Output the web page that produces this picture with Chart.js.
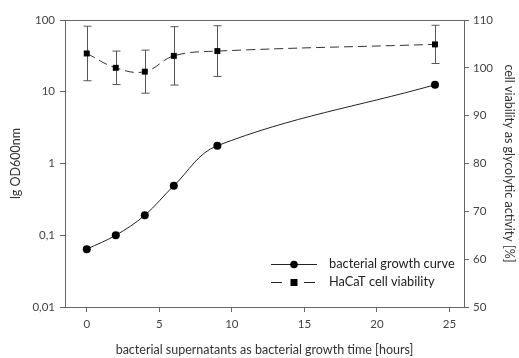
<!DOCTYPE html>
<html>
<head>
<meta charset="utf-8">
<script src="https://cdn.jsdelivr.net/npm/chart.js@4.4.1/dist/chart.umd.min.js"></script>
<style>
  html, body { margin: 0; padding: 0; background: #fff; }
  #wrap { width: 519px; height: 358px; }
</style>
</head>
<body>
<div id="wrap"><canvas id="chart" width="519" height="358"></canvas></div>
<script>
// growth time of the bacteria (hours)
const hours = [0, 2, 4, 6, 9, 24];
// OD600 of the bacterial culture (log axis)
const growthOD = [0.064, 0.1, 0.19, 0.49, 1.77, 12.5];
// HaCaT viability (% glycolytic activity) and its standard deviation
const viability = [103.0, 100.0, 99.2, 102.5, 103.5, 104.9];
const viabilitySd = [5.7, 3.5, 4.5, 6.1, 5.3, 4.0];

const xTicks = [0, 5, 10, 15, 20, 25];
const odTicks = [0.01, 0.1, 1, 10, 100];
const viabilityTicks = [50, 60, 70, 80, 90, 100, 110];

const FONT = 'Lato, "Open Sans", sans-serif';
const LEGEND_WIDTH = 126; // width of the longer legend entry
const AXIS = '#666';
const TEXT = '#444';

// vertical error bars with caps on the viability series
const errorBars = {
  id: 'errorBars',
  beforeDatasetsDraw(chart) {
    const ctx = chart.ctx;
    const xs = chart.scales.x, ys = chart.scales.y2;
    ctx.save();
    ctx.strokeStyle = '#555';
    ctx.lineWidth = 1;
    hours.forEach((h, i) => {
      const px = Math.round(xs.getPixelForValue(h)) + 0.5;
      const top = ys.getPixelForValue(viability[i] + viabilitySd[i]);
      const bot = ys.getPixelForValue(viability[i] - viabilitySd[i]);
      ctx.beginPath();
      ctx.moveTo(px, top); ctx.lineTo(px, bot);
      ctx.moveTo(px - 4, top); ctx.lineTo(px + 4, top);
      ctx.moveTo(px - 4, bot); ctx.lineTo(px + 4, bot);
      ctx.stroke();
    });
    ctx.restore();
  }
};

// frame on top of the plot area plus the legend inside it
const frameAndLegend = {
  id: 'frameAndLegend',
  afterDraw(chart) {
    const ctx = chart.ctx;
    const a = chart.chartArea;
    ctx.save();
    ctx.strokeStyle = AXIS;
    ctx.lineWidth = 1;
    ctx.beginPath();
    ctx.moveTo(a.left, Math.round(a.top) + 0.5);
    ctx.lineTo(a.right, Math.round(a.top) + 0.5);
    ctx.stroke();

    const x0 = a.right - 193, x1 = a.right - 147, tx = a.right - 135;
    const cx = (x0 + x1) / 2;
    const ds = chart.data.datasets;

    // size the legend text so the first entry spans LEGEND_WIDTH
    ctx.font = '12px ' + FONT;
    const size = 12 * LEGEND_WIDTH / ctx.measureText(ds[0].label).width;
    ctx.font = size.toFixed(1) + 'px ' + FONT;
    ctx.textBaseline = 'middle';
    ctx.strokeStyle = '#222';

    // solid line with a round marker
    let y = a.bottom - 43;
    ctx.beginPath();
    ctx.moveTo(x0, y + 0.5); ctx.lineTo(x1, y + 0.5);
    ctx.stroke();
    ctx.fillStyle = '#000';
    ctx.beginPath(); ctx.arc(cx, y + 0.5, 3.8, 0, Math.PI * 2); ctx.fill();
    ctx.fillStyle = '#222';
    ctx.fillText(ds[0].label, tx, y);

    // two short dashes around a square marker
    y = a.bottom - 25;
    ctx.beginPath();
    ctx.moveTo(x0, y + 0.5); ctx.lineTo(x0 + 11, y + 0.5);
    ctx.moveTo(x1 - 13, y + 0.5); ctx.lineTo(x1 - 2, y + 0.5);
    ctx.stroke();
    ctx.fillStyle = '#000';
    ctx.fillRect(cx - 3.5, y - 3, 7, 7);
    ctx.fillStyle = '#222';
    ctx.fillText(ds[1].label, tx, y);
    ctx.restore();
  }
};

function fixTicks(values) {
  return scale => { scale.ticks = values.map(v => ({ value: v })); };
}

new Chart(document.getElementById('chart'), {
  type: 'line',
  data: {
    datasets: [
      {
        label: 'bacterial growth curve',
        data: hours.map((h, i) => ({ x: h, y: growthOD[i] })),
        yAxisID: 'y',
        borderColor: '#222',
        borderWidth: 1,
        backgroundColor: '#000',
        pointStyle: 'circle',
        pointRadius: 4,
        pointBorderWidth: 0,
        tension: 0.37,
        fill: false
      },
      {
        label: 'HaCaT cell viability',
        data: hours.map((h, i) => ({ x: h, y: viability[i] })),
        yAxisID: 'y2',
        borderColor: '#333',
        borderWidth: 1,
        borderDash: [9, 5],
        backgroundColor: '#000',
        pointStyle: 'rect',
        pointRadius: 4.2,
        pointBorderWidth: 0,
        tension: 0.4,
        fill: false
      }
    ]
  },
  plugins: [errorBars, frameAndLegend],
  options: {
    responsive: false,
    animation: false,
    layout: { padding: { top: 20, left: 0, right: 0, bottom: 0 } },
    plugins: { legend: { display: false }, tooltip: { enabled: false } },
    scales: {
      x: {
        type: 'linear',
        min: -1.5,
        max: 26,
        afterBuildTicks: fixTicks(xTicks),
        afterFit: s => { s.height = 51; },
        grid: { drawOnChartArea: false, tickLength: 5, color: AXIS },
        border: { color: AXIS },
        ticks: { font: { family: FONT, size: 11.5 }, color: TEXT, padding: 5 },
        title: {
          display: true,
          text: 'bacterial supernatants as bacterial growth time [hours]',
          font: { family: FONT, size: 12.5 },
          color: '#333',
          padding: { top: 0, bottom: 1 }
        }
      },
      y: {
        type: 'logarithmic',
        position: 'left',
        min: 0.01,
        max: 100,
        afterBuildTicks: fixTicks(odTicks),
        afterFit: s => { s.width = 65; },
        grid: { drawOnChartArea: false, tickLength: 5, color: AXIS },
        border: { color: AXIS },
        ticks: {
          font: { family: FONT, size: 11.5 },
          color: TEXT,
          padding: 5,
          callback: v => String(v).replace('.', ',')
        },
        title: {
          display: true,
          text: 'lg OD600nm',
          font: { family: FONT, size: 12.5 },
          color: '#333',
          padding: { top: 8, bottom: 0 }
        }
      },
      y2: {
        type: 'linear',
        position: 'right',
        min: 50,
        max: 110,
        afterBuildTicks: fixTicks(viabilityTicks),
        afterFit: s => { s.width = 55; },
        grid: { drawOnChartArea: false, tickLength: 5, color: AXIS },
        border: { color: AXIS },
        ticks: { font: { family: FONT, size: 11.5 }, color: TEXT, padding: 4 },
        title: {
          display: true,
          text: 'cell viability as glycolytic activity [%]',
          font: { family: FONT, size: 12.5 },
          color: '#333',
          padding: { top: 2, bottom: 0 }
        }
      }
    }
  }
});
</script>
</body>
</html>
